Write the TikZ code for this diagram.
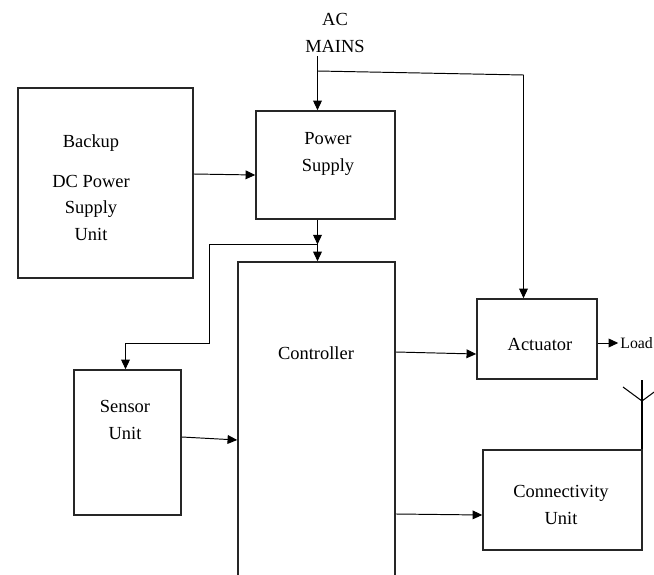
\documentclass[tikz,border=0pt]{standalone}
\usepackage{fontspec}
\setmainfont{Liberation Serif}
\usepackage{tikz}
\usetikzlibrary{arrows.meta}

\tikzset{
  blk/.style={draw=black!85, line width=0.9pt, rectangle},
  txt/.style={align=center, font=\fontsize{10.5}{15.3}\selectfont},
  wire/.style={line width=0.55pt, -{Triangle[length=5.5pt,width=5pt]}},
}

\begin{document}
\begin{tikzpicture}[x=0.02cm, y=-0.02cm]
	\useasboundingbox (0,0) rectangle (654,575);
	\clip (0,0) rectangle (654,575);

	% blocks
	\node[blk, minimum width=3.5cm, minimum height=3.8cm] (backup) at (105.5,183) {};
	\node[blk, minimum width=2.78cm, minimum height=2.16cm] (psu) at (325.5,165) {};
	\node[blk, minimum width=3.14cm, minimum height=6.76cm] (ctrl) at (316.5,431) {};
	\node[blk, minimum width=2.4cm, minimum height=1.6cm] (act) at (537,339) {};
	\node[blk, minimum width=2.14cm, minimum height=2.9cm] (sensor) at (127.5,442.5) {};
	\node[blk, minimum width=3.18cm, minimum height=2cm] (conn) at (562.5,500) {};

	% texts
	\node[txt] (backuptxt) at (91,188) {Backup\\[7pt]DC Power\\Supply\\Unit};
	\node[txt] (psutxt) at (328,154) {Power\\Supply};
	\node[txt] (ctrltxt) at (316,353) {Controller};
	\node[txt] (acttxt) at (540,344) {Actuator};
	\node[txt] (sensortxt) at (125,420) {Sensor\\Unit};
	\node[txt] (conntxt) at (561,505) {Connectivity\\Unit};
	\node[txt] (mains) at (335,33) {AC\\MAINS};
	\node[txt, anchor=west, inner sep=0pt, font=\fontsize{9}{11}\selectfont] (load) at (620,343) {Load};

	% mains feed
	\coordinate (feed) at (317.5,56);
	\coordinate (split) at (317.5,71);
	\coordinate (bend) at (523.5,75);
	\draw[wire] (feed) -- (feed |- psu.north);
	\draw[wire] (split) -- (bend) -- (bend |- act.north);

	% backup to supply
	\draw[wire] (backup.east |- 0,174) -- (psu.west |- 0,175);

	% supply to controller, tap to sensor
	\coordinate (tap) at (317.5,244.5);
	\coordinate (lft) at (209.5,244.5);
	\coordinate (low) at (209.5,343.5);
	\coordinate (snt) at (125.5,343.5);
	\draw[wire] (tap |- psu.south) -- (tap);
	\draw[wire] (tap) -- (tap |- ctrl.north);
	\draw[wire] (tap) -- (lft) -- (low) -- (snt) -- (snt |- sensor.north);

	% controller links
	\draw[wire] (ctrl.east |- 0,352) -- (act.west |- 0,354);
	\draw[wire] (sensor.east |- 0,437) -- (ctrl.west |- 0,440);
	\draw[wire] (ctrl.east |- 0,514) -- (conn.west |- 0,515);
	\draw[wire] (act.east |- 0,343) -- ([xshift=-1pt]load.west);

	% antenna
	\coordinate (ant) at (642,401);
	\draw[line width=0.6pt] (ant |- conn.north) -- (642,380);
	\draw[line width=0.6pt] (623,387) -- (ant) -- (661,387);
\end{tikzpicture}
\end{document}
